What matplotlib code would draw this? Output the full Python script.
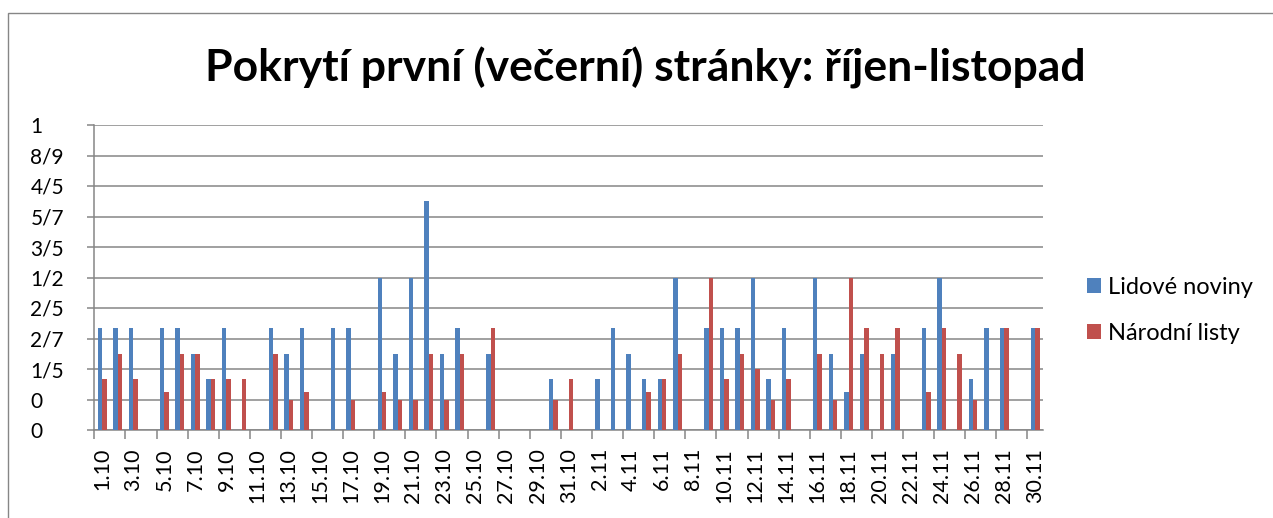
import matplotlib
matplotlib.use('Agg')
import matplotlib.pyplot as plt
import numpy as np
from matplotlib.patches import Rectangle

# ---- data ----
oct_days = [f"{d}.10" for d in range(1, 32)]
nov_days = [f"{d}.11" for d in range(1, 31)]
categories = oct_days + nov_days

lidove_noviny = [
    0.333, 0.333, 0.333, 0.0, 0.333, 0.333, 0.25, 0.167, 0.333, 0.0,
    0.0, 0.333, 0.25, 0.333, 0.0, 0.333, 0.333, 0.0, 0.5, 0.25,
    0.5, 0.75, 0.25, 0.333, 0.0, 0.25, 0.0, 0.0, 0.0, 0.167,
    0.0,
    0.0, 0.167, 0.333, 0.25, 0.167, 0.167, 0.5, 0.0, 0.333, 0.333,
    0.333, 0.5, 0.167, 0.333, 0.0, 0.5, 0.25, 0.125, 0.25, 0.0,
    0.25, 0.0, 0.333, 0.5, 0.0, 0.167, 0.333, 0.333, 0.0, 0.333,
]
narodni_listy = [
    0.167, 0.25, 0.167, 0.0, 0.125, 0.25, 0.25, 0.167, 0.167, 0.167,
    0.0, 0.25, 0.1, 0.125, 0.0, 0.0, 0.1, 0.0, 0.125, 0.1,
    0.1, 0.25, 0.1, 0.25, 0.0, 0.333, 0.0, 0.0, 0.0, 0.1,
    0.167,
    0.0, 0.0, 0.0, 0.0, 0.125, 0.167, 0.25, 0.0, 0.5, 0.167,
    0.25, 0.2, 0.1, 0.167, 0.0, 0.25, 0.1, 0.5, 0.333, 0.25,
    0.333, 0.0, 0.125, 0.333, 0.25, 0.1, 0.0, 0.333, 0.0, 0.333,
]
y_ticks = [0.0, 0.1, 0.2, 0.3, 0.4, 0.5, 0.6, 0.7, 0.8, 0.9, 1.0]
y_tick_labels = ["0", "0", "1/5", "2/7", "2/5", "1/2", "3/5", "5/7", "4/5", "8/9", "1"]
series_names = ["Lidové noviny", "Národní listy"]
title = "Pokrytí první (večerní) stránky: říjen-listopad"

# ---- style ----
plt.rcParams['font.family'] = ['Lato', 'DejaVu Sans']
BLUE = '#4F81BD'
RED = '#C0504D'
GRID = '#868686'

W, H = 1273, 518
fig = plt.figure(figsize=(W / 100, H / 100), dpi=100)
fig.patch.set_facecolor('white')

# chart border
fig.patches.append(Rectangle((8 / W, -0.2), 2.0, (1 - 12.5 / H) + 0.2,
                             transform=fig.transFigure, fill=False,
                             edgecolor=GRID, lw=1.0))

left, right, top, bottom = 94.3, 1043, 125, 430
ax = fig.add_axes([left / W, 1 - bottom / H, (right - left) / W, (bottom - top) / H])

x = np.arange(len(categories))
bw = 1 / 3.5
ax.bar(x - bw / 2, lidove_noviny, bw, color=BLUE, label=series_names[0], zorder=3)
ax.bar(x + bw / 2, narodni_listy, bw, color=RED, label=series_names[1], zorder=3)

ax.set_xlim(-0.5, len(categories) - 0.5)
ax.set_ylim(0, 1)
ax.set_yticks(y_ticks)
ax.set_yticklabels(y_tick_labels, fontsize=15, ha='left')
ax.yaxis.grid(True, color=GRID, lw=1.1, zorder=0)
ax.set_axisbelow(True)
for s in ['top', 'right']:
    ax.spines[s].set_visible(False)
for s in ['left', 'bottom']:
    ax.spines[s].set_color(GRID)
    ax.spines[s].set_linewidth(1.1)
ax.tick_params(axis='y', length=5, width=1.1, color=GRID, pad=41)

ax.set_xticks(x[::2])
ax.set_xticklabels(categories[::2], rotation=90, fontsize=15.5, va='top', ha='center')
ax.set_xticks(np.arange(-0.5, len(categories), 2), minor=True)
ax.tick_params(axis='x', which='major', length=0, pad=13)
ax.tick_params(axis='x', which='minor', length=6.5, width=1.1, color=GRID)

fig.text(645 / W, 1 - 68 / H, title, ha='center', va='center',
         fontsize=32, fontweight='bold', color='black')

ax.legend(loc='center left', bbox_to_anchor=(1087 / W, 1 - 310.5 / H),
          bbox_transform=fig.transFigure, frameon=False, fontsize=17,
          handlelength=0.6, handleheight=0.6, handletextpad=0.3,
          labelspacing=1.05, borderpad=0, borderaxespad=0)

fig.savefig('out.png', dpi=100)
